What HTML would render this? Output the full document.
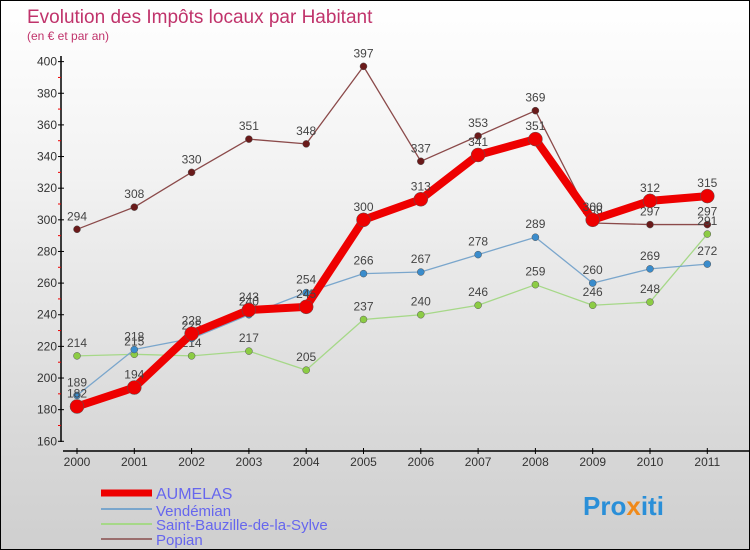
<!DOCTYPE html>
<html><head><meta charset="utf-8"><style>
body{margin:0}
#c{position:relative;width:748px;height:548px;border:1px solid #000;background:linear-gradient(#fff,#f3f3f3 30%,#d8d8d8 80%,#cfcfcf);overflow:hidden;font-family:"Liberation Sans","DejaVu Sans",sans-serif}
</style></head><body>
<div id="c">
<svg id="s" width="748" height="548" style="position:absolute;left:0;top:0" font-family="Liberation Sans, sans-serif">
<text x="26" y="22" font-size="19" fill="#c0336b">Evolution des Impôts locaux par Habitant</text>
<text x="26" y="39" font-size="12" fill="#c0336b">(en € et par an)</text>
<g id="ax"></g><g id="ser"></g>
<g>
<line x1="100" y1="492" x2="151" y2="492" stroke="#e00" stroke-width="7"/>
<text x="155" y="498" font-size="16" fill="#6666ee">AUMELAS</text>
<line x1="100" y1="508" x2="151" y2="508" stroke="#7aa6cc" stroke-width="2"/>
<text x="155" y="515" font-size="15" fill="#6666ee">Vendémian</text>
<line x1="100" y1="523" x2="151" y2="523" stroke="#a6d888" stroke-width="2"/>
<text x="155" y="529" font-size="15" fill="#6666ee">Saint-Bauzille-de-la-Sylve</text>
<line x1="100" y1="538" x2="151" y2="538" stroke="#9a6e6e" stroke-width="2"/>
<text x="155" y="544" font-size="15" fill="#6666ee">Popian</text>
</g>
<text x="582" y="514" font-size="26" font-weight="bold" fill="#2a8fd8">Pro<tspan fill="#f08a1a">x</tspan><tspan fill="#2a8fd8">iti</tspan></text>
</svg>
</div>
<script>
const years=[2000,2001,2002,2003,2004,2005,2006,2007,2008,2009,2010,2011];
const yTicks=[160,180,200,220,240,260,280,300,320,340,360,380,400];
const aumelas=[182,194,228,243,245,300,313,341,351,300,312,315];
const vendemian=[189,218,225,240,254,266,267,278,289,260,269,272];
const bauzille=[214,215,214,217,205,237,240,246,259,246,248,291];
const popian=[294,308,330,351,348,397,337,353,369,298,297,297];
const NS="http://www.w3.org/2000/svg";
const X=i=>76+i*57.3;
const Y=v=>440.3-(v-160)*1.582;
function mk(t,a,p){const e=document.createElementNS(NS,t);for(const k in a)e.setAttribute(k,a[k]);p.appendChild(e);return e;}
const ax=document.getElementById('ax'),ser=document.getElementById('ser');
const yl=mk('line',{x1:60,y1:55,x2:60,y2:441,stroke:'#000','stroke-width':1.5},ax);


const xl=mk('line',{x1:62,y1:450,x2:748,y2:450,stroke:'#000','stroke-width':1.5},ax);


yTicks.forEach((v,i)=>{
  mk('line',{x1:57,y1:Y(v),x2:63,y2:Y(v),stroke:'#000'},ax);
  if(i<yTicks.length-1)mk('line',{x1:57,y1:Y(v+10),x2:60,y2:Y(v+10),stroke:'#e00'},ax);
  const t=mk('text',{x:56,y:Y(v)+4,'font-size':12,'text-anchor':'end',fill:'#333'},ax);t.textContent=v;
  
  
});
years.forEach((y,i)=>{
  mk('line',{x1:X(i),y1:447,x2:X(i),y2:453,stroke:'#000'},ax);
  const t=mk('text',{x:X(i),y:465,'font-size':12,'text-anchor':'middle',fill:'#333'},ax);t.textContent=y;
  
  
});
function series(d,name,color,w,r,fill){
  const g=mk('g',{},ser);
  
  
  const pl=mk('polyline',{points:d.map((v,i)=>X(i)+','+Y(v)).join(' '),fill:'none',stroke:color,'stroke-width':w,'stroke-linejoin':'round'},g);
  
  
  d.forEach((v,i)=>{
    const c=mk('circle',{cx:X(i),cy:Y(v),r:r,fill:fill,stroke:'#555','stroke-width':0.5},g);
    
    
    const t=mk('text',{x:X(i),y:Y(v)-9,'font-size':12,'text-anchor':'middle',fill:'#444'},g);t.textContent=v;
    
    
  });
}
series(popian,'popian','#8b4a4a',1.3,3.5,'#6a1a1a');
series(bauzille,'saint-bauzille','#a6d888',1.3,3.5,'#8ccc44');
series(vendemian,'vendemian','#7aa6cc',1.3,3.5,'#3a8ccc');
series(aumelas,'aumelas','#ee0000',8,7,'#ee0000');
</script>
</body></html>
